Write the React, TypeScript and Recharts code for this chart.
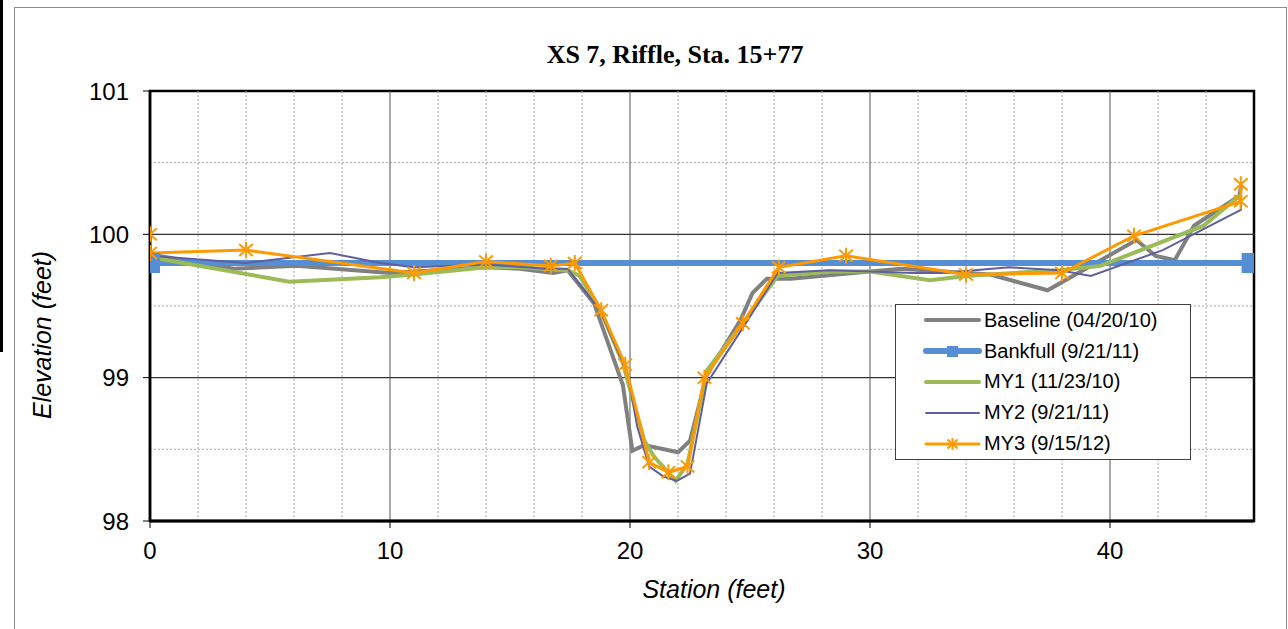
import { ComposedChart, Line, XAxis, YAxis, ReferenceLine, ReferenceArea, Legend } from 'recharts';

// station (ft), elevation (ft)
const baseline: [number, number][] = [
  [0, 99.86], [3.5, 99.76], [6.1, 99.78], [10, 99.73], [14, 99.77], [15.4, 99.76],
  [16.8, 99.73], [17.4, 99.75], [18.5, 99.52], [19.7, 98.95], [20.1, 98.49], [20.6, 98.53],
  [22.0, 98.48], [22.5, 98.56], [23.2, 99.02], [24.6, 99.4], [25.1, 99.59], [25.7, 99.69],
  [26.7, 99.69], [30, 99.74], [31.3, 99.76], [35, 99.72], [37.4, 99.61], [41.1, 99.96],
  [41.9, 99.85], [42.7, 99.82], [43.5, 100.06], [45.4, 100.27], [45.45, 100.33],
];
const bankfull: [number, number][] = [[0, 99.8], [45.9, 99.8]];
const my1: [number, number][] = [
  [0, 99.84], [5.8, 99.67], [9.6, 99.7], [11, 99.72], [14, 99.77], [15.4, 99.77],
  [17.4, 99.75], [17.9, 99.71], [18.75, 99.48], [19.7, 99.1], [20.6, 98.56], [21.0, 98.45],
  [21.9, 98.28], [22.4, 98.4], [23.2, 99.05], [24.7, 99.38], [26.15, 99.71], [28.3, 99.74],
  [30, 99.74], [32.5, 99.68], [34, 99.71], [37.9, 99.75], [39.6, 99.78], [43.9, 100.06],
  [45.4, 100.27],
];
const my2: [number, number][] = [
  [0, 99.85], [4, 99.8], [7.5, 99.87], [9.6, 99.8], [11, 99.77], [14, 99.79], [16.5, 99.76],
  [17.4, 99.76], [18.75, 99.47], [19.9, 99.03], [20.3, 98.66], [20.8, 98.38], [21.4, 98.31],
  [21.95, 98.28], [22.5, 98.33], [23.2, 98.96], [24.9, 99.4], [26.15, 99.73], [28.3, 99.75],
  [30, 99.74], [31.8, 99.73], [33, 99.73], [35.8, 99.77], [37.9, 99.75], [39.2, 99.71],
  [42.2, 99.89], [45.45, 100.17], [45.45, 100.3],
];
const my3: [number, number][] = [
  [0, 100.0], [0, 99.87], [4, 99.89], [11, 99.73], [14, 99.81], [16.7, 99.78], [17.7, 99.8],
  [18.8, 99.47], [19.8, 99.09], [20.8, 98.41], [21.6, 98.34], [22.4, 98.38], [23.1, 99.0],
  [24.7, 99.38], [26.2, 99.77], [29, 99.85], [34, 99.72], [38, 99.73], [41, 99.99],
  [45.45, 100.23], [45.45, 100.35],
];

const xTicks = [0, 10, 20, 30, 40];
const yTicks = [98, 99, 100, 101];
const xMajor = [10, 20, 30, 40];
const yMajor = [99, 100];
const xMinor = [2, 4, 6, 8, 12, 14, 16, 18, 22, 24, 26, 28, 32, 34, 36, 38, 42, 44];
const yMinor = [98.5, 99.5, 100.5];

const FONT = 'Arial, "Liberation Sans", sans-serif';

const toPts = (d: [number, number][]) => d.map(([x, y]) => ({ x, y }));

const series = [
  { name: 'Baseline (04/20/10)', data: baseline, color: '#808080', width: 4, marker: 'none' },
  { name: 'Bankfull (9/21/11)', data: bankfull, color: '#558ED5', width: 6, marker: 'square' },
  { name: 'MY1 (11/23/10)', data: my1, color: '#9BBB59', width: 4, marker: 'none' },
  { name: 'MY2 (9/21/11)', data: my2, color: '#5F5FA0', width: 2, marker: 'none' },
  { name: 'MY3 (9/15/12)', data: my3, color: '#FF9900', width: 3, marker: 'star' },
];

function Star({ cx, cy, r, color }: { cx: number; cy: number; r: number; color: string }) {
  return (
    <g stroke={color} strokeWidth={2}>
      <line x1={cx} y1={cy - r} x2={cx} y2={cy + r} />
      <line x1={cx - r * 0.85} y1={cy - r * 0.75} x2={cx + r * 0.85} y2={cy + r * 0.75} />
      <line x1={cx - r * 0.85} y1={cy + r * 0.75} x2={cx + r * 0.85} y2={cy - r * 0.75} />
    </g>
  );
}

function makeDot(marker: string, color: string) {
  if (marker === 'star') {
    return (p: any) => <Star key={`s-${p.index}`} cx={p.cx} cy={p.cy} r={8} color={color} />;
  }
  if (marker === 'square') {
    return (p: any) => (
      <rect key={`q-${p.index}`} x={p.cx - 10} y={p.cy - 10} width={20} height={20} fill={color} />
    );
  }
  return false;
}

function LegendBox() {
  return (
    <div
      style={{
        width: 296,
        height: 156,
        boxSizing: 'border-box',
        border: '1px solid #404040',
        background: '#fff',
        fontFamily: FONT,
        fontSize: 20,
        color: '#000',
      }}
    >
      {series.map((s) => (
        <div key={s.name} style={{ display: 'flex', alignItems: 'center', height: 30.8 }}>
          <svg width={88} height={30} style={{ flex: 'none' }}>
            <line x1={30} y1={15} x2={83} y2={15} stroke={s.color} strokeWidth={s.width} strokeLinecap="round" />
            {s.marker === 'square' && <rect x={51} y={10} width={11} height={11} fill={s.color} />}
            {s.marker === 'star' && <Star cx={56.5} cy={15} r={6} color={s.color} />}
          </svg>
          <span style={{ whiteSpace: 'nowrap' }}>{s.name}</span>
        </div>
      ))}
    </div>
  );
}

export default function App() {
  const tickStyle = { fill: '#000', fontSize: 24, fontFamily: FONT };
  return (
    <div style={{ position: 'absolute', left: 0, top: 0, width: 1288, height: 629, background: '#fff', overflow: 'hidden' }}>
      <div style={{ position: 'absolute', left: 0, top: 0, width: 3, height: 352, background: '#000' }} />
      <div style={{ position: 'absolute', left: 14, top: 7, width: 1273, height: 640, border: '1px solid #8c8c8c', boxSizing: 'border-box' }} />
      <div
        style={{
          position: 'absolute',
          left: 425,
          width: 500,
          top: 39,
          textAlign: 'center',
          fontFamily: '"Times New Roman", "Liberation Serif", serif',
          fontWeight: 'bold',
          fontSize: 26,
          lineHeight: '32px',
        }}
      >
        XS 7, Riffle, Sta. 15+77
      </div>
      <ComposedChart width={1288} height={629} margin={{ top: 91, right: 34, bottom: 58, left: 70 }}>
        {xMinor.map((v) => (
          <ReferenceLine key={`xm${v}`} x={v} stroke="#a6a6a6" strokeWidth={1} strokeDasharray="2 2" />
        ))}
        {yMinor.map((v) => (
          <ReferenceLine key={`ym${v}`} y={v} stroke="#a6a6a6" strokeWidth={1} strokeDasharray="2 2" />
        ))}
        {xMajor.map((v) => (
          <ReferenceLine key={`xM${v}`} x={v} stroke="#555" strokeWidth={1} />
        ))}
        {yMajor.map((v) => (
          <ReferenceLine key={`yM${v}`} y={v} stroke="#333" strokeWidth={1.2} />
        ))}
        <ReferenceArea x1={0} x2={46} y1={98} y2={101} fill="none" stroke="#000" strokeWidth={2.5} />
        <XAxis
          dataKey="x"
          type="number"
          domain={[0, 46]}
          ticks={xTicks}
          allowDataOverflow
          height={50}
          tickSize={7}
          tickMargin={14}
          tick={tickStyle}
          axisLine={{ stroke: '#000', strokeWidth: 3 }}
          tickLine={{ stroke: '#000' }}
        />
        <YAxis
          dataKey="y"
          type="number"
          domain={[98, 101]}
          ticks={yTicks}
          allowDataOverflow
          width={80}
          tickSize={7}
          tickMargin={14}
          tick={tickStyle}
          axisLine={{ stroke: '#000', strokeWidth: 2.5 }}
          tickLine={{ stroke: '#000' }}
        />
        {series.map((s) => (
          <Line
            key={s.name}
            name={s.name}
            data={toPts(s.data)}
            dataKey="y"
            type="linear"
            stroke={s.color}
            strokeWidth={s.width}
            dot={makeDot(s.marker, s.color) as any}
            activeDot={false}
            isAnimationActive={false}
          />
        ))}
        <Legend
          content={() => <LegendBox />}
          layout="vertical"
          align="center"
          verticalAlign="middle"
          wrapperStyle={{ left: 895, top: 304, width: 296 }}
        />
      </ComposedChart>
      <div
        style={{
          position: 'absolute',
          left: 514,
          width: 400,
          top: 574,
          textAlign: 'center',
          fontFamily: FONT,
          fontStyle: 'italic',
          fontSize: 25,
          lineHeight: '30px',
        }}
      >
        Station (feet)
      </div>
      <div
        style={{
          position: 'absolute',
          left: 42 - 150,
          top: 335 - 15,
          width: 300,
          textAlign: 'center',
          fontFamily: FONT,
          fontStyle: 'italic',
          fontSize: 25,
          lineHeight: '30px',
          transform: 'rotate(-90deg)',
        }}
      >
        Elevation (feet)
      </div>
    </div>
  );
}
